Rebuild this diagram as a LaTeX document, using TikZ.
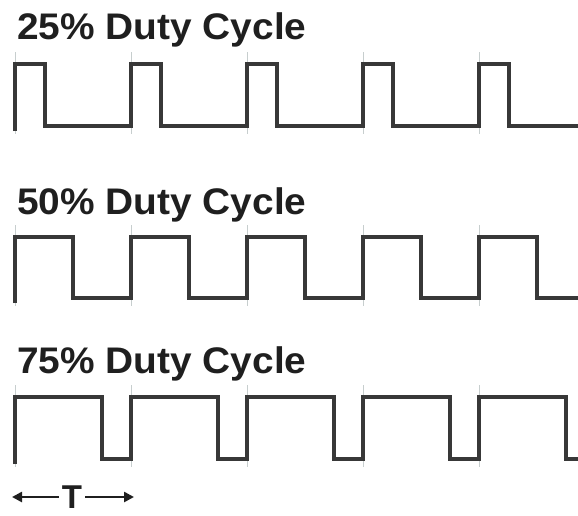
\documentclass[tikz,border=0pt]{standalone}
\usepackage{fontspec}
\setmainfont{Liberation Sans}
\usetikzlibrary{arrows.meta}
\begin{document}
\begin{tikzpicture}[x=1pt,y=-1pt,
  title/.style={font=\fontsize{37}{40}\selectfont\bfseries, text=black!88,
    inner sep=0pt, anchor=base west, xscale=1.05},
  wave/.style={draw=black!78, line width=3.4pt, line join=miter, line cap=butt},
  tick/.style={draw=teal!25!black!22, line width=0.8pt},
  tarrow/.style={draw=black!88, line width=2.6pt,
    -{Triangle[length=10pt,width=10pt]}, shorten >=0pt}]
\useasboundingbox (0,0) rectangle (578,515);

% period markers and square waves: #1 high level, #2 low level, #3 on-time
\newcommand{\pulsetrain}[3]{%
  \foreach \k in {0,...,4}
    \draw[tick] ({15+116*\k},{#1-12}) -- ({15+116*\k},{#2+8});
  \begin{scope}
    \clip (0,0) rectangle (578,515);
    \draw[wave] (15,{#2+5}) \foreach \k in {0,...,4} {
      -- ({15+116*\k},#1) -- ({15+116*\k+#3},#1)
      -- ({15+116*\k+#3},#2) -- ({15+116*(\k+1)},#2) };
  \end{scope}}

\node[title] (t25) at (17,39) {25\% Duty Cycle};
\pulsetrain{64}{126}{30}

\node[title] (t50) at (17,214) {50\% Duty Cycle};
\pulsetrain{237}{298}{58}

\node[title] (t75) at (17,373) {75\% Duty Cycle};
\pulsetrain{397}{459}{87}

% period label
\node[font=\fontsize{33}{36}\selectfont\bfseries, text=black!88, inner sep=0pt,
  anchor=base] (T) at (72,508) {T};
\coordinate (tl) at (12,497);
\coordinate (tr) at (134,497);
\draw[tarrow] ([xshift=-3pt]T.west |- tl) -- (tl);
\draw[tarrow] ([xshift=3pt]T.east |- tr) -- (tr);
\end{tikzpicture}
\end{document}
